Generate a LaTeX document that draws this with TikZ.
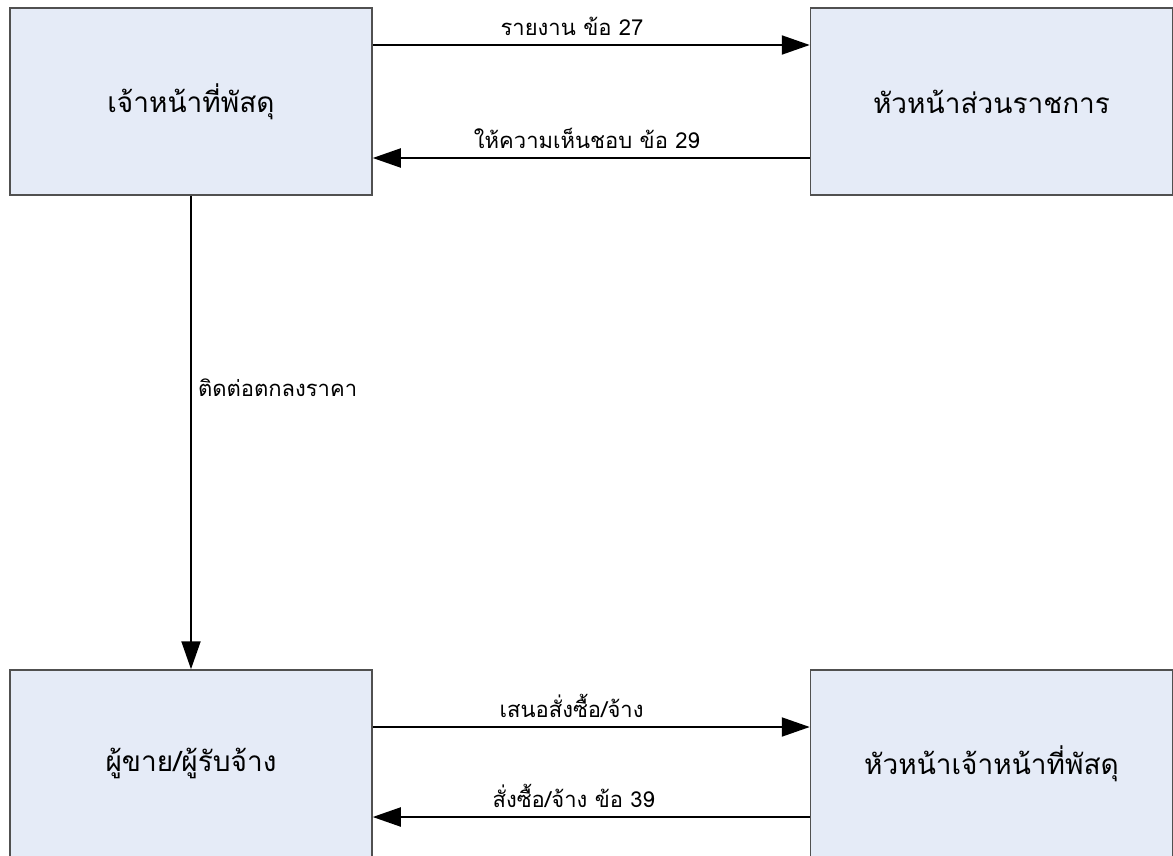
\documentclass[tikz,border=0pt]{standalone}
\usepackage{fontspec}
\newfontfamily\thaifont[Script=Thai]{Loma}
\usetikzlibrary{arrows.meta}
\definecolor{boxfill}{HTML}{E5EBF7}
\definecolor{boxline}{HTML}{505050}
\begin{document}
\begin{tikzpicture}[x=1pt,y=-1pt,
  box/.style={draw=boxline,line width=1.5pt,fill=boxfill,rectangle,minimum width=362pt,minimum height=187pt,inner sep=0pt,font=\thaifont\fontsize{28}{32}\selectfont},
  arr/.style={line width=2pt,-{Triangle[length=28pt,width=19pt]}},
  lab/.style={font=\thaifont\fontsize{22}{26}\selectfont,inner sep=3pt},
  labup/.style={lab,above,yshift=5pt}]
\useasboundingbox (0,0) rectangle (1173,856);
\fill[white] (0,0) rectangle (1173,856);
\node[box] (tl) at (191,101.5) {เจ้าหน้าที่พัสดุ};
\node[box] (tr) at (991.5,101.5) {หัวหน้าส่วนราชการ};
\node[box] (bl) at (191,763.5) {ผู้ขาย/ผู้รับจ้าง};
\node[box] (br) at (991.5,763.5) {หัวหน้าเจ้าหน้าที่พัสดุ};
\draw[arr] ([yshift=56.5pt]tl.east) -- node[labup,pos=0.456] (l1) {รายงาน ข้อ 27} ([yshift=56.5pt]tr.west);
\draw[arr] ([yshift=-56.5pt]tr.west) -- node[labup,pos=0.51] (l2) {ให้ความเห็นชอบ ข้อ 29} ([yshift=-56.5pt]tl.east);
\draw[arr] (tl.south) -- node[lab,right,pos=0.405,xshift=3pt] (l3) {ติดต่อตกลงราคา} (bl.north);
\draw[arr] ([yshift=36.5pt]bl.east) -- node[labup,pos=0.455] (l4) {เสนอสั่งซื้อ/จ้าง} ([yshift=36.5pt]br.west);
\draw[arr] ([yshift=-53.5pt]br.west) -- node[labup,pos=0.54] (l5) {สั่งซื้อ/จ้าง ข้อ 39} ([yshift=-53.5pt]bl.east);
\end{tikzpicture}
\end{document}
